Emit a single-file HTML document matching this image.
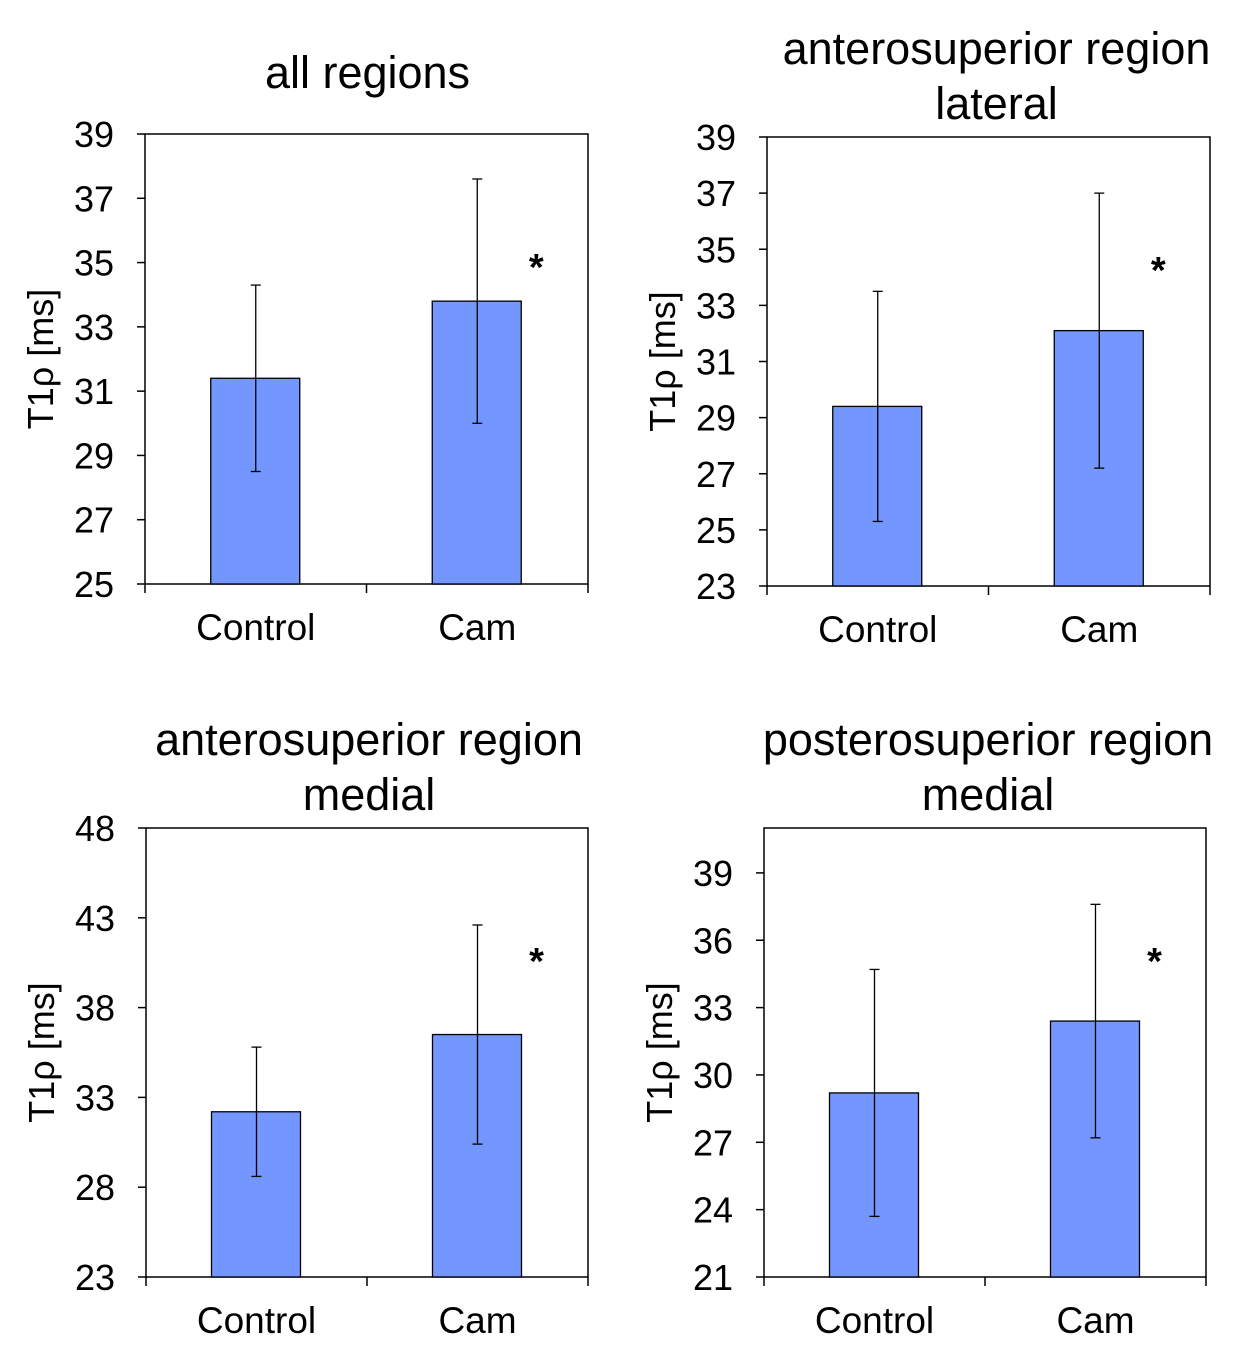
<!DOCTYPE html>
<html><head><meta charset="utf-8"><style>
body{margin:0;background:#fff;}
svg{display:block;font-family:"Liberation Sans",Arial,sans-serif;}
</style></head><body>
<svg id="s" width="1250" height="1365"></svg>
<script>
const categories=["Control","Cam"];
const titles=[["all regions"],["anterosuperior region","lateral"],["anterosuperior region","medial"],["posterosuperior region","medial"]];
const means=[[31.4,33.8],[29.4,32.1],[32.2,36.5],[29.2,32.4]];
const errUp=[[34.3,37.6],[33.5,37.0],[35.8,42.6],[34.7,37.6]];
const errLo=[[28.5,30.0],[25.3,27.2],[28.6,30.4],[23.7,27.2]];
const yTicks=[[25,27,29,31,33,35,37,39],[23,25,27,29,31,33,35,37,39],[23,28,33,38,43,48],[21,24,27,30,33,36,39]];
const yMin=[25,23,23,21];
const yMax=[39,39,48,41];
const stars=[[true],[true],[true],[true]];
const boxes=[{x0:145,x1:588,y0:134,y1:584,ty:[72],sy:262,dx:1},{x0:767,x1:1210,y0:137,y1:586,ty:[48,103],sy:265,dx:8},{x0:146,x1:588,y0:828,y1:1277,ty:[739,794],sy:956,dx:2},{x0:764,x1:1206,y0:828,y1:1277,ty:[739,794],sy:956,dx:3}];
const NS="http://www.w3.org/2000/svg";
const svg=document.getElementById('s');
function mk(t,a,p,txt){const e=document.createElementNS(NS,t);for(const k in a)e.setAttribute(k,a[k]);if(txt!==undefined)e.textContent=txt;(p||svg).appendChild(e);return e;}
boxes.forEach((b,i)=>{
 const g=mk('g',{});
 
 
 const y=v=>b.y1-(v-yMin[i])/(yMax[i]-yMin[i])*(b.y1-b.y0);
 const bw=(b.x1-b.x0)/2;
 const xc=k=>b.x0+bw*(k+0.5);
 titles[i].forEach((t,j)=>{const e=mk('text',{x:(b.x0+b.x1)/2+b.dx,y:b.ty[j]+16,'font-size':45,'text-anchor':'middle'},g,t);
  });
 const fr=mk('rect',{x:b.x0,y:b.y0,width:b.x1-b.x0,height:b.y1-b.y0,fill:'none',stroke:'#000','stroke-width':1.5},g);
 
 yTicks[i].forEach(v=>{const yy=y(v);mk('line',{x1:b.x0-8,x2:b.x0,y1:yy,y2:yy,stroke:'#000','stroke-width':1.5},g);
  const e=mk('text',{x:b.x0-31,y:yy+13,'font-size':36,'text-anchor':'end'},g,v);
  });
 [0,1,2].forEach(k=>mk('line',{x1:b.x0+bw*k,x2:b.x0+bw*k,y1:b.y1,y2:b.y1+9,stroke:'#000','stroke-width':1.5},g));
 const at=mk('text',{transform:`translate(${b.x0-92},${(b.y0+b.y1)/2}) rotate(-90)`,'font-size':36,'text-anchor':'middle'},g,'T1ρ [ms]');
 
 categories.forEach((c,k)=>{
  const x=xc(k);
  const r=mk('rect',{x:x-45,y:y(means[i][k]),width:89,height:b.y1-y(means[i][k]),fill:'#7396ff',stroke:'#000','stroke-width':1.3},g);
  
  const e1=mk('line',{x1:x,x2:x,y1:y(errUp[i][k]),y2:y(errLo[i][k]),stroke:'#000','stroke-width':1.3},g);
  
  [errUp[i][k],errLo[i][k]].forEach(v=>mk('line',{x1:x-5,x2:x+5,y1:y(v),y2:y(v),stroke:'#000','stroke-width':1.3},g));
  const t=mk('text',{x:x,y:b.y1+56,'font-size':37,'text-anchor':'middle'},g,c);
  
 });
 if(stars[i][0]){const s=mk('text',{x:xc(1)+59,y:b.sy+18,'font-size':38,'text-anchor':'middle','font-weight':'bold'},g,'*');
  }
});
</script>
</body></html>
